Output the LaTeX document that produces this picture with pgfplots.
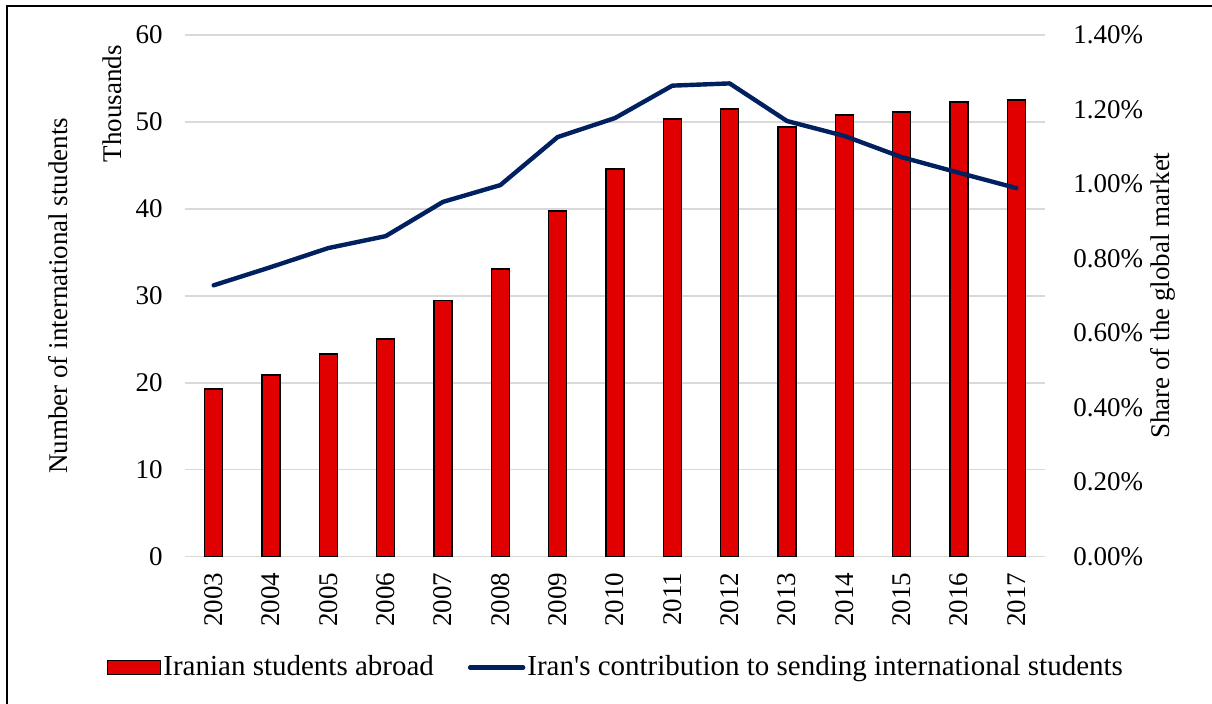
\documentclass[border=0pt]{standalone}
\usepackage{fontspec}
\setmainfont{Liberation Serif}[Ligatures=TeXOff]
\usepackage{pgfplots}
\usepackage{pgfplotstable}
\pgfplotsset{compat=1.18}
\definecolor{barred}{HTML}{E00000}
\definecolor{navy}{HTML}{002060}
\definecolor{gridgray}{HTML}{D9D9D9}
\newcommand\tf{\fontsize{13.5}{16}\selectfont}

\pgfplotstableread{
x year students share
0 2003 19.24 0.728
1 2004 20.85 0.777
2 2005 23.30 0.828
3 2006 25.03 0.860
4 2007 29.44 0.952
5 2008 33.08 0.997
6 2009 39.76 1.126
7 2010 44.56 1.177
8 2011 50.35 1.264
9 2012 51.50 1.270
10 2013 49.40 1.169
11 2014 50.77 1.129
12 2015 51.15 1.072
13 2016 52.30 1.030
14 2017 52.53 0.989
}\datatable

\begin{document}
\begin{tikzpicture}[x=0.5pt,y=0.5pt]
\useasboundingbox (0,0) rectangle (1212,704);
\draw[line width=1.2pt] (7,0) -- (7,698) -- (1212,698);

\begin{axis}[
  at={(92.5pt,73.75pt)}, anchor=south west,
  scale only axis, width=430pt, height=260.75pt,
  xmin=-0.5, xmax=14.5, ymin=0, ymax=60,
  ytick={0,10,...,60},
  xtick={0,...,14},
  xticklabels={2003,2004,2005,2006,2007,2008,2009,2010,2011,2012,2013,2014,2015,2016,2017},
  axis y line*=left, axis x line*=bottom,
  axis line style={draw=none},
  ymajorgrids, grid style={gridgray, line width=0.9pt},
  major tick length=0pt,
  tick label style={font=\tf},
  /pgf/number format/assume math mode=true,
  yticklabel style={anchor=east, inner sep=0pt, xshift=-11pt},
  xticklabel style={rotate=90, anchor=east, inner sep=0pt, xshift=-8pt},
  ylabel={Number of international students},
  ylabel style={at={(axis description cs:-0.1477,0.5)}, rotate=0, anchor=center, font=\tf},
  clip=false,
]
\draw[gridgray, line width=0.9pt] (axis cs:-0.5,0) -- (axis cs:14.5,0);
\addplot[ybar, bar width=9pt, fill=barred, draw=black, line width=0.8pt] table[x=x, y=students] {\datatable};
\node[rotate=90, anchor=east, font=\tf, inner sep=0pt] at (axis description cs:-0.0849,0.981) {Thousands};
\end{axis}

\begin{axis}[
  at={(92.5pt,73.75pt)}, anchor=south west,
  scale only axis, width=430pt, height=260.75pt,
  xmin=-0.5, xmax=14.5, ymin=0, ymax=1.4,
  ytick={0,0.2,...,1.4},
  axis y line*=right, axis x line=none,
  axis line style={draw=none},
  major tick length=0pt,
  tick label style={font=\tf},
  /pgf/number format/assume math mode=true,
  yticklabel={\pgfmathprintnumber[fixed,fixed zerofill,precision=2]{\tick}\%},
  yticklabel style={anchor=west, inner sep=0pt, xshift=14pt},
  ylabel={Share of the global market},
  ylabel style={at={(axis description cs:1.137,0.5)}, rotate=0, anchor=center, font=\tf},
  clip=false,
  legend columns=2,
  legend style={draw=none, fill=none, at={(axis description cs:0.501,-0.2126)}, anchor=center,
    font=\fontsize{14.5}{17}\selectfont, inner sep=0pt,
    /tikz/every even column/.append style={column sep=16pt},
    nodes={inner sep=1pt}},
  legend cell align=left,
]
\addlegendimage{legend image code/.code={\draw[fill=barred,draw=black,line width=0.8pt] (0pt,-3.5pt) rectangle (26.5pt,3.5pt);}}
\addlegendimage{legend image code/.code={\draw[navy, line width=2.2pt, line cap=round] (0pt,0pt) -- (26.5pt,0pt);}}
\addplot[navy, line width=2.2pt, line join=round, line cap=round, no marks, forget plot]
  table[x=x, y=share] {\datatable};
\legend{Iranian students abroad, Iran's contribution to sending international students}
\end{axis}
\end{tikzpicture}
\end{document}
